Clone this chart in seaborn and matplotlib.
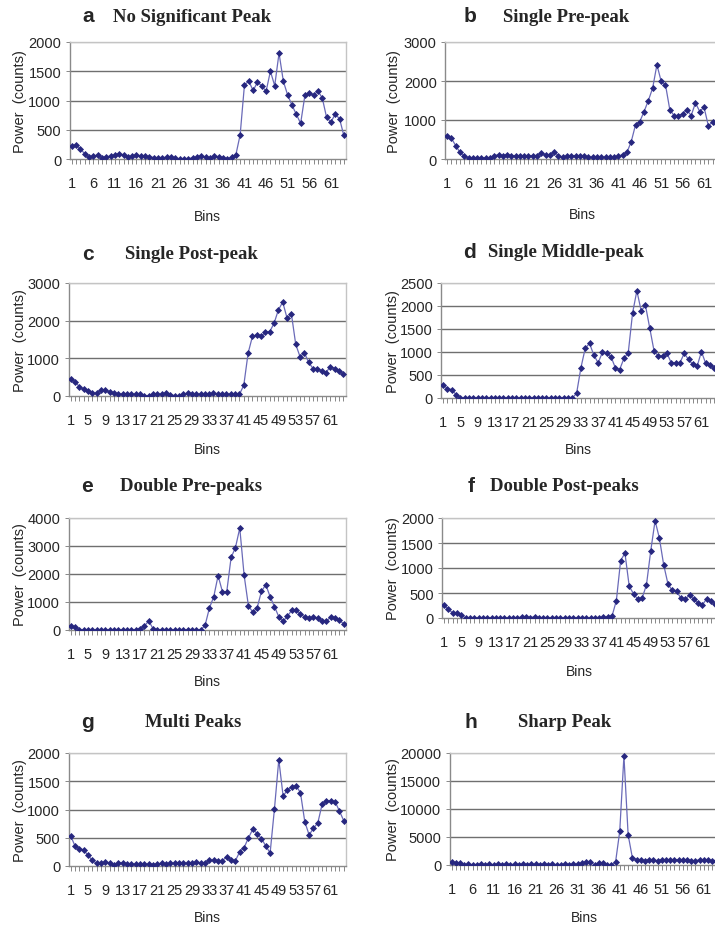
import matplotlib
matplotlib.use("Agg")
import matplotlib.pyplot as plt
import seaborn as sns
import pandas as pd

bins = list(range(1, 65))

power_a = [218, 241, 172, 92, 29, 46, 69, 23, 40, 46,
           69, 92, 63, 40, 46, 69, 46, 46, 40, 23,
           23, 23, 29, 29, 11, 0, 0, 0, 23, 29,
           46, 35, 23, 46, 40, 23, 0, 29, 69, 414,
           1270, 1328, 1172, 1310, 1253, 1155, 1500, 1253, 1810, 1328,
           1092, 920, 764, 609, 1092, 1120, 1092, 1160, 1046, 713,
           632, 764, 690, 402]
power_b = [600, 531, 343, 171, 69, 34, 34, 34, 34, 34,
           34, 86, 111, 86, 111, 86, 86, 86, 86, 86,
           86, 86, 146, 111, 111, 180, 86, 43, 86, 86,
           86, 86, 86, 43, 43, 43, 43, 43, 43, 43,
           69, 111, 171, 446, 874, 960, 1217, 1500, 1817, 2417,
           1989, 1903, 1269, 1114, 1114, 1157, 1260, 1114, 1440, 1217,
           1329, 857, 943, 900]
power_c = [463, 383, 249, 178, 142, 71, 71, 160, 160, 107,
           71, 45, 45, 45, 45, 45, 45, 9, 9, 45,
           45, 45, 71, 36, 9, 9, 45, 71, 45, 45,
           45, 45, 45, 71, 45, 45, 45, 45, 45, 45,
           285, 1139, 1584, 1620, 1584, 1691, 1709, 1932, 2288, 2493,
           2065, 2181, 1371, 1042, 1148, 890, 730, 730, 668, 623,
           783, 730, 668, 579]
power_d = [292, 204, 182, 73, 0, 0, 0, 0, 0, 0,
           0, 0, 0, 0, 0, 0, 0, 0, 0, 0,
           0, 0, 0, 0, 0, 0, 0, 0, 0, 0,
           0, 102, 656, 1079, 1188, 933, 765, 991, 969, 896,
           656, 619, 860, 984, 1844, 2332, 1895, 2012, 1516, 1020,
           911, 911, 969, 765, 765, 765, 969, 838, 729, 692,
           1006, 751, 714, 656]
power_e = [143, 107, 0, 0, 0, 0, 0, 0, 0, 0,
           0, 0, 0, 0, 0, 12, 48, 143, 321, 48,
           0, 0, 0, 0, 0, 0, 0, 0, 0, 0,
           0, 167, 786, 1190, 1940, 1370, 1370, 2590, 2940, 3640,
           1960, 857, 643, 786, 1380, 1620, 1190, 833, 476, 310,
           500, 702, 702, 583, 452, 417, 452, 417, 310, 310,
           476, 440, 345, 214]
power_f = [252, 173, 100, 100, 53, 0, 0, 0, 0, 0,
           0, 0, 0, 0, 0, 0, 0, 0, 20, 20,
           0, 27, 0, 0, 0, 0, 0, 0, 0, 0,
           0, 0, 0, 0, 0, 0, 0, 20, 20, 40,
           346, 1150, 1296, 631, 485, 372, 399, 664, 1349, 1947,
           1595, 1063, 678, 551, 532, 399, 372, 465, 372, 299,
           266, 385, 332, 286]
power_g = [533, 355, 308, 284, 189, 100, 47, 47, 71, 47,
           24, 53, 53, 30, 36, 30, 30, 30, 30, 24,
           36, 47, 30, 47, 47, 47, 47, 47, 47, 71,
           47, 47, 100, 100, 83, 95, 166, 107, 95, 254,
           325, 497, 651, 574, 485, 355, 231, 1012, 1882, 1237,
           1349, 1402, 1420, 1296, 781, 550, 669, 763, 1095, 1154,
           1154, 1136, 970, 799]
power_h = [480, 300, 300, 0, 120, 60, 80, 100, 40, 90,
           70, 110, 50, 100, 60, 120, 40, 90, 60, 100,
           110, 50, 90, 60, 100, 70, 50, 100, 60, 90,
           120, 360, 600, 600, 0, 360, 360, 0, 0, 480,
           6000, 19460, 5400, 1320, 960, 900, 720, 960, 960, 720,
           960, 960, 960, 960, 960, 960, 960, 720, 720, 960,
           960, 960, 720, 720]

letters = ["a", "b", "c", "d", "e", "f", "g", "h"]
titles = ["No Significant Peak", "Single Pre-peak", "Single Post-peak",
          "Single Middle-peak", "Double Pre-peaks", "Double Post-peaks",
          "Multi Peaks", "Sharp Peak"]
y_max = [2000, 3000, 3000, 2500, 4000, 2000, 2000, 20000]
y_step = [500, 1000, 1000, 500, 1000, 500, 500, 5000]
x_label_step = [5, 5, 4, 4, 4, 4, 4, 5]
series = [power_a, power_b, power_c, power_d, power_e, power_f, power_g, power_h]

W, H = 715, 929
# axes boxes in pixels: left, right, top, bottom
boxes = [
    (69.5, 346, 43, 160), (445, 719, 43, 160),
    (68.5, 345.5, 284, 397), (441, 716.5, 284, 399),
    (68.5, 346, 519, 631), (442, 717.5, 519, 619),
    (68.5, 346, 754, 867), (449.5, 718.5, 754, 866),
]
# title positions: letter x, title center x, y
title_pos = [
    (88, 192, 17), (470, 566, 17),
    (88, 191, 255), (470, 566, 253),
    (87, 191, 487), (471, 564, 487),
    (87, 193, 723), (471, 565, 723),
]
xlabel_off = [57, 55, 53, 51, 51, 53, 51, 52]
ylabel_x = [20, 394, 20, 393, 20, 393, 20, 393]

sns.set_theme(style="white")
plt.rcParams["font.family"] = ["Liberation Sans", "DejaVu Sans"]

fig = plt.figure(figsize=(W / 100, H / 100), dpi=100)

line_col = "#6a6ab8"
mark_col = "#27277f"
grid_col = "#6f6f6f"
frame_col = "#c4c4c4"

for i in range(8):
    l, r, t, b = boxes[i]
    ax = fig.add_axes([l / W, 1 - b / H, (r - l) / W, (b - t) / H])
    df = pd.DataFrame({"Bins": bins, "Power": series[i]})
    sns.lineplot(data=df, x="Bins", y="Power", ax=ax, color=line_col,
                 linewidth=0.9, zorder=3)
    sns.scatterplot(data=df, x="Bins", y="Power", ax=ax, color=mark_col,
                    marker="D", s=13, linewidth=0, zorder=4)
    ax.set_xlim(0.5, 64.5)
    ax.set_ylim(0, y_max[i])
    yt = list(range(0, y_max[i] + 1, y_step[i]))
    ax.set_yticks(yt)
    ax.set_yticklabels([str(v) for v in yt], fontsize=10.5)
    for v in yt[1:]:
        ax.axhline(v, color=grid_col if v < y_max[i] else frame_col,
                   linewidth=1.0, zorder=1)
    ax.set_xticks(bins, minor=True)
    xt = list(range(1, 65, x_label_step[i]))
    ax.set_xticks(xt)
    ax.set_xticklabels([str(v) for v in xt], fontsize=10.5)
    ax.tick_params(axis="x", which="major", length=3.5, width=0.7,
                   color="#888888", pad=9, direction="out", bottom=True)
    ax.tick_params(axis="x", which="minor", length=3.5, width=0.7,
                   color="#888888", direction="out", bottom=True)
    ax.tick_params(axis="y", which="major", length=3, width=0.7,
                   color="#888888", pad=3, direction="out", left=True)
    for sp in ["top", "right"]:
        ax.spines[sp].set_color(frame_col)
        ax.spines[sp].set_linewidth(1.0)
    for sp in ["left", "bottom"]:
        ax.spines[sp].set_color("#8a8a8a")
        ax.spines[sp].set_linewidth(1.0)
    ax.grid(False)
    ax.set_xlabel("Bins", fontsize=10)
    ax.xaxis.set_label_coords(0.5, -xlabel_off[i] / (b - t))
    ax.xaxis.label.set_va("center")
    ax.set_ylabel("Power  (counts)", fontsize=10.5)
    ax.yaxis.set_label_coords((ylabel_x[i] - l) / (r - l), 0.5)
    ax.yaxis.label.set_va("center")

    lx, tx, ty = title_pos[i]
    fig.text(lx / W, 1 - ty / H, letters[i], ha="center", va="center",
             fontsize=15, fontweight="bold",
             family=["Liberation Sans", "DejaVu Sans"])
    fig.text(tx / W, 1 - ty / H, titles[i], ha="center", va="center",
             fontsize=13.5, fontweight="bold",
             family=["Liberation Serif", "DejaVu Serif"])

fig.savefig("out.png", dpi=100, facecolor="white")
